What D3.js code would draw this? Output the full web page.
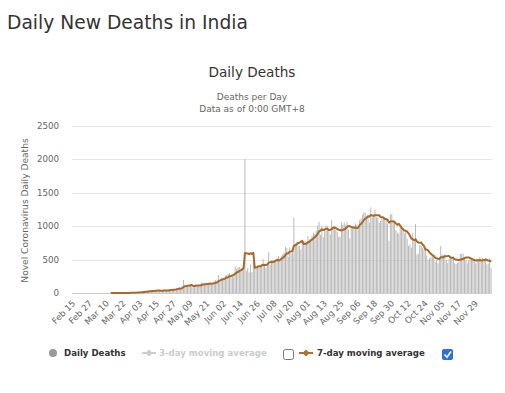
<!DOCTYPE html>
<html>
<head>
<meta charset="utf-8">
<script src="https://cdn.jsdelivr.net/npm/d3@7"></script>
<style>
body { margin: 0; background: #fff; }
text { font-family: "DejaVu Sans", Verdana, sans-serif; }
</style>
</head>
<body>
<div id="chart"></div>
<script>
// daily new deaths, one value per day from Feb 15 to Dec 10
var feb = [0,0,0,0,0,0,0,0,0,0,0,0,0,0,0];
var mar = [0,0,0,0,0,0,0,0,0,0,0,0,1,1,0,0,1,0,1,1,0,4,2,1,1,4,3,6,6,3,12];
var apr = [6,15,18,21,10,32,25,19,30,36,36,34,31,38,33,43,35,32,31,41,50,41,37,57,53,44,60,60,71,64];
var may = [94,69,79,195,126,93,99,101,128,97,87,122,136,103,121,120,157,134,140,132,148,137,142,147,146,170,194,175,269,193,230];
var jun = [200,204,260,273,286,298,261,266,246,396,357,386,389,325,380,343,2003,334,375,306,426,312,465,418,392,413,384,410,417,506];
var jul = [434,379,442,613,425,467,482,487,475,519,551,500,553,582,606,687,671,543,681,587,648,1129,740,757,708,705,654,779,768,779,764];
var aug = [853,771,806,857,904,886,933,1007,1065,871,1007,834,942,1007,996,941,876,1092,977,983,944,912,836,848,1059,1023,1057,1021,1065,948,819];
var sep = [1000,980,1010,1040,1020,980,1090,1115,1172,1209,1201,1114,1136,1054,1283,1132,1174,1247,1133,1130,1053,1085,1129,1141,1089,1124,1039,776,1179,1181];
var oct = [1095,1069,940,903,884,986,971,963,895,918,816,706,730,680,894,777,1033,579,587,717,703,680,650,650,560,500,520,543,563,551,470];
var nov = [490,448,508,704,577,559,578,490,449,514,547,547,554,447,435,449,474,584,584,590,537,501,447,488,518,524,492,485,443,482];
var dec = [490,540,478,524,482,512,430,440,520,375];

var deaths = [].concat(feb, mar, apr, may, jun, jul, aug, sep, oct, nov, dec);

var tickLabels = ["Feb 15","Feb 27","Mar 10","Mar 22","Apr 03","Apr 15","Apr 27","May 09","May 21",
    "Jun 02","Jun 14","Jun 26","Jul 08","Jul 20","Aug 01","Aug 13","Aug 25","Sep 06","Sep 18",
    "Sep 30","Oct 12","Oct 24","Nov 05","Nov 17","Nov 29"];
var yTicks = [0, 500, 1000, 1500, 2000, 2500];

// one category per day
var fmt = d3.timeFormat("%b %d");
var days = d3.timeDay.range(new Date(2020, 1, 15), new Date(2020, 1, 15 + deaths.length)).map(fmt);

// 7-day trailing moving average, starts with the first reported death
var firstDeath = deaths.findIndex(function (d) { return d > 0; });
var avg7 = deaths.map(function (d, i) {
    if (i < firstDeath) return null;
    var win = deaths.slice(Math.max(0, i - 6), i + 1);
    return d3.mean(win);
});

var width = 505;
var height = 393;
var plot = {left: 72, right: 492, top: 126, bottom: 293};

var svg = d3
    .select("#chart")
    .append("svg")
    .attr("width", width)
    .attr("height", height);

var x = d3.scaleBand()
    .domain(d3.range(deaths.length))
    .range([plot.left, plot.right])
    .padding(0.35);

var y = d3.scaleLinear()
    .domain([0, 2500])
    .range([plot.bottom, plot.top]);

// titles
svg.append("text")
    .attr("x", 7)
    .attr("y", 29)
    .attr("font-size", "18.7px")
    .attr("fill", "#333")
    .text("Daily New Deaths in India");

svg.append("text")
    .attr("x", 252)
    .attr("y", 77)
    .attr("text-anchor", "middle")
    .attr("font-size", "13.6px")
    .attr("fill", "#333")
    .text("Daily Deaths");

svg.append("text")
    .attr("x", 252)
    .attr("y", 100)
    .attr("text-anchor", "middle")
    .attr("font-size", "9px")
    .attr("fill", "#666")
    .text("Deaths per Day");

svg.append("text")
    .attr("x", 252)
    .attr("y", 112)
    .attr("text-anchor", "middle")
    .attr("font-size", "9px")
    .attr("fill", "#666")
    .text("Data as of 0:00 GMT+8");

// grid + y labels
svg.append("g")
    .selectAll("line")
    .data(yTicks)
    .join("line")
    .attr("x1", plot.left)
    .attr("x2", plot.right)
    .attr("y1", function (d) { return Math.round(y(d)) + 0.5; })
    .attr("y2", function (d) { return Math.round(y(d)) + 0.5; })
    .attr("stroke", function (d) { return d === 0 ? "#ccc" : "#e6e6e6"; })
    .attr("stroke-width", 1);

svg.append("g")
    .selectAll("text")
    .data(yTicks)
    .join("text")
    .attr("x", 59)
    .attr("y", function (d) { return y(d); })
    .attr("dy", "0.35em")
    .attr("text-anchor", "end")
    .attr("font-size", "8.7px")
    .attr("fill", "#666")
    .text(function (d) { return d; });

svg.append("text")
    .attr("transform", "translate(28," + ((plot.top + plot.bottom) / 2 + 1) + ")rotate(-90)")
    .attr("text-anchor", "middle")
    .attr("font-size", "9.1px")
    .attr("fill", "#666")
    .text("Novel Coronavirus Daily Deaths");

// x labels
svg.append("g")
    .selectAll("text")
    .data(tickLabels)
    .join("text")
    .attr("transform", function (d) {
        var i = days.indexOf(d);
        return "translate(" + (x(i) + x.bandwidth() / 2 + 3) + ",304)rotate(-45)";
    })
    .attr("text-anchor", "end")
    .attr("font-size", "8.6px")
    .attr("fill", "#666")
    .text(function (d) { return d; });

// bars
svg.append("g")
    .selectAll("rect")
    .data(deaths)
    .join("rect")
    .attr("x", function (d, i) { return x(i); })
    .attr("y", function (d) { return y(d); })
    .attr("width", x.bandwidth())
    .attr("height", function (d) { return plot.bottom - y(d); })
    .attr("fill", "#b4b4b4");

// 7-day line
var line = d3.line()
    .defined(function (d) { return d !== null; })
    .x(function (d, i) { return x(i) + x.bandwidth() / 2; })
    .y(function (d) { return y(d); });

svg.append("path")
    .datum(avg7)
    .attr("d", line)
    .attr("fill", "none")
    .attr("stroke", "#a8692b")
    .attr("stroke-width", 2)
    .attr("stroke-linejoin", "round");

// legend
var leg = svg.append("g").attr("font-size", "8.6px").attr("font-weight", "bold");

leg.append("circle").attr("cx", 53).attr("cy", 353).attr("r", 4).attr("fill", "#999");
leg.append("text").attr("x", 64).attr("y", 356).attr("fill", "#333").text("Daily Deaths");

leg.append("line").attr("x1", 142).attr("x2", 156).attr("y1", 353).attr("y2", 353)
    .attr("stroke", "#ccc").attr("stroke-width", 2);
leg.append("path").attr("d", "M149,349.5L152.5,353L149,356.5L145.5,353Z").attr("fill", "#ccc");
leg.append("text").attr("x", 159).attr("y", 356).attr("fill", "#ccc").text("3-day moving average");

leg.append("rect").attr("x", 283.5).attr("y", 349.5).attr("width", 10).attr("height", 10)
    .attr("rx", 2).attr("fill", "#fff").attr("stroke", "#767676");

leg.append("line").attr("x1", 299).attr("x2", 313).attr("y1", 353).attr("y2", 353)
    .attr("stroke", "#b0702e").attr("stroke-width", 2);
leg.append("path").attr("d", "M306,349.5L309.5,353L306,356.5L302.5,353Z").attr("fill", "#b0702e");
leg.append("text").attr("x", 317).attr("y", 356).attr("fill", "#333").text("7-day moving average");

leg.append("rect").attr("x", 442).attr("y", 349).attr("width", 11).attr("height", 11)
    .attr("rx", 2).attr("fill", "#2f6fd8");
leg.append("path").attr("d", "M444.5,354.5L447,357.2L451,351.5")
    .attr("fill", "none").attr("stroke", "#fff").attr("stroke-width", 1.6);
</script>
</body>
</html>
